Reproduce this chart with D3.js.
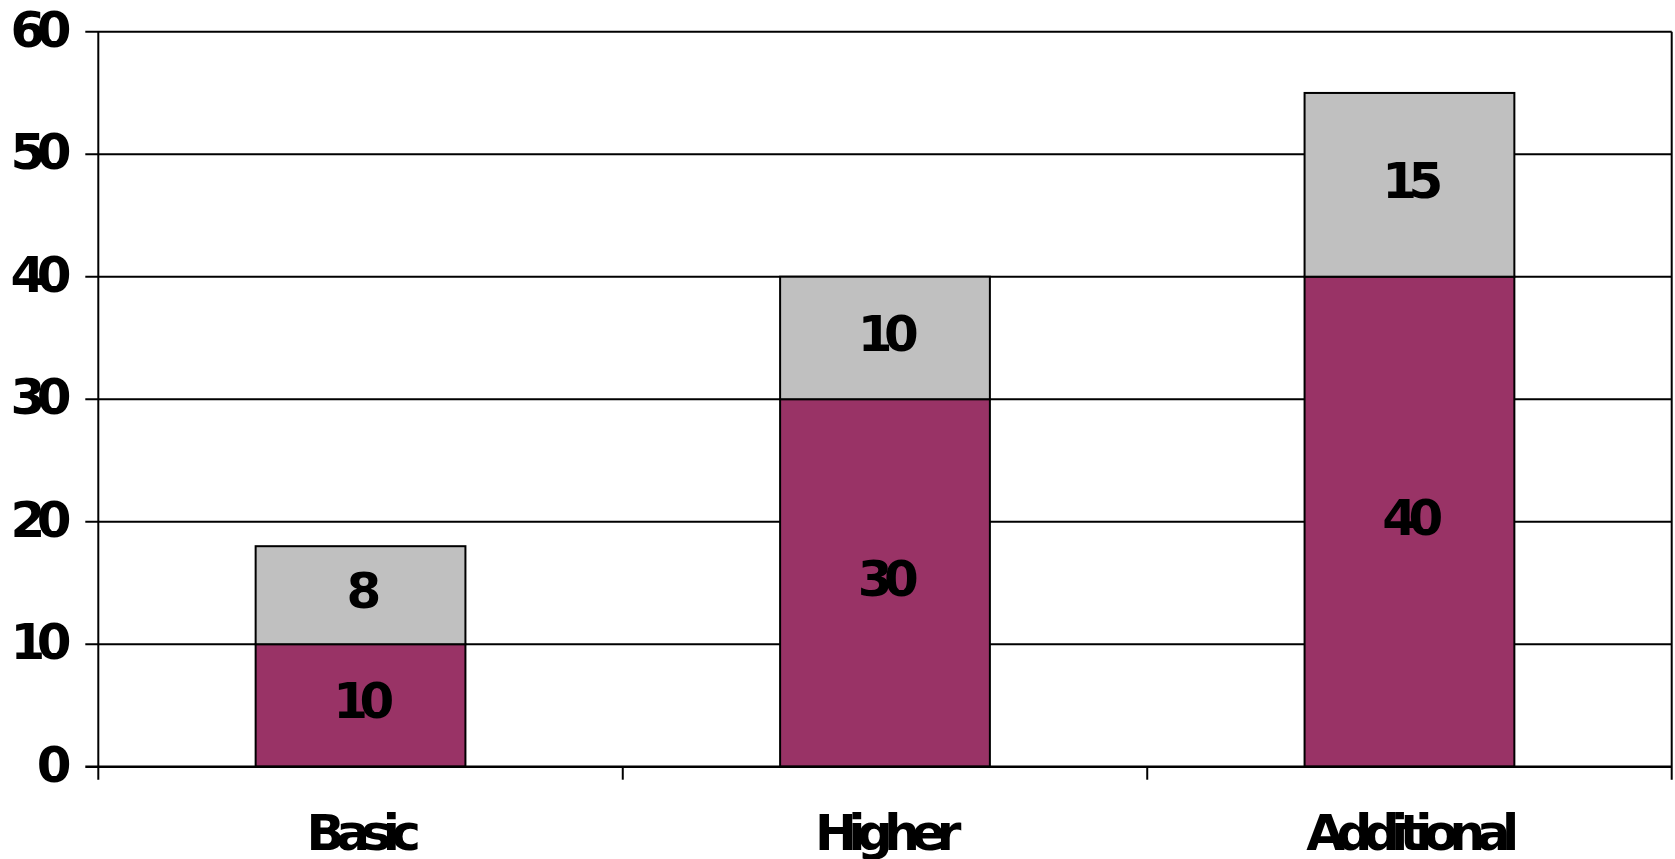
<!DOCTYPE html>
<html>
<head>
<meta charset="utf-8">
<script src="https://cdn.jsdelivr.net/npm/d3@7"></script>
<style>
  html, body { margin: 0; padding: 0; background: #fff; }
  svg { display: block; }
  text { font-family: "DejaVu Sans", Verdana, sans-serif; font-weight: bold; font-size: 50px; letter-spacing: -8.5px; fill: #000; }
</style>
</head>
<body>
<svg id="chart" width="1675" height="859"></svg>
<script>
const categories = ["Basic", "Higher", "Additional"];
const seriesBase = [10, 30, 40];
const seriesExtra = [8, 10, 15];
const yTicks = [0, 10, 20, 30, 40, 50, 60];

(function () {
const pLeft = 98.3, pRight = 1671.7, pTop = 31.7, pBottom = 766.7;
const svg = d3.select("#chart");

const x = d3.scaleBand().domain(categories).range([pLeft, pRight]).paddingInner(0.6).paddingOuter(0.3);
const y = d3.scaleLinear().domain([0, 60]).range([pBottom, pTop]);

// gridlines
svg.append("g").selectAll("line").data(yTicks.filter(d => d > 0)).join("line")
  .attr("x1", pLeft - 13).attr("x2", pRight)
  .attr("y1", d => y(d)).attr("y2", d => y(d))
  .attr("stroke", "#000").attr("stroke-width", 2);

// y-axis tick labels
svg.append("g").selectAll("text").data(yTicks).join("text")
  .attr("x", 63).attr("y", d => y(d) + 15)
  .attr("text-anchor", "end")
  .text(d => d);

// stacked data
const rows = categories.map((c, i) => ({ cat: c, base: seriesBase[i], extra: seriesExtra[i] }));
const stack = d3.stack().keys(["base", "extra"])(rows);
const colors = { base: "#993366", extra: "#C0C0C0" };

const g = svg.append("g");
stack.forEach(layer => {
  g.selectAll(null).data(layer).join("rect")
    .attr("x", d => x(d.data.cat))
    .attr("width", x.bandwidth())
    .attr("y", d => y(d[1]))
    .attr("height", d => y(d[0]) - y(d[1]))
    .attr("fill", colors[layer.key])
    .attr("stroke", "#000").attr("stroke-width", 2);
});
stack.forEach(layer => {
  g.selectAll(null).data(layer).join("text")
    .attr("x", d => x(d.data.cat) + x.bandwidth() / 2 - 1)
    .attr("y", d => (y(d[0]) + y(d[1])) / 2 + 13)
    .attr("text-anchor", "middle")
    .text(d => d[1] - d[0]);
});

// axes lines
svg.append("line").attr("x1", pLeft).attr("x2", pLeft).attr("y1", pTop).attr("y2", pBottom + 13)
  .attr("stroke", "#000").attr("stroke-width", 2);
svg.append("line").attr("x1", pRight).attr("x2", pRight).attr("y1", pTop).attr("y2", pBottom + 13)
  .attr("stroke", "#000").attr("stroke-width", 2);
svg.append("line").attr("x1", pLeft - 13).attr("x2", pRight).attr("y1", pBottom).attr("y2", pBottom)
  .attr("stroke", "#000").attr("stroke-width", 2.5);
// category boundary ticks
const step = x.step();
svg.append("g").selectAll("line").data(categories.slice(1)).join("line")
  .attr("x1", d => x(d) - step * 0.3).attr("x2", d => x(d) - step * 0.3)
  .attr("y1", pBottom).attr("y2", pBottom + 13)
  .attr("stroke", "#000").attr("stroke-width", 2);

// category labels
svg.append("g").selectAll("text").data(categories).join("text")
  .attr("x", d => x(d) + x.bandwidth() / 2 - 1)
  .attr("y", 850)
  .attr("text-anchor", "middle")
  .text(d => d);
})();
</script>
</body>
</html>
